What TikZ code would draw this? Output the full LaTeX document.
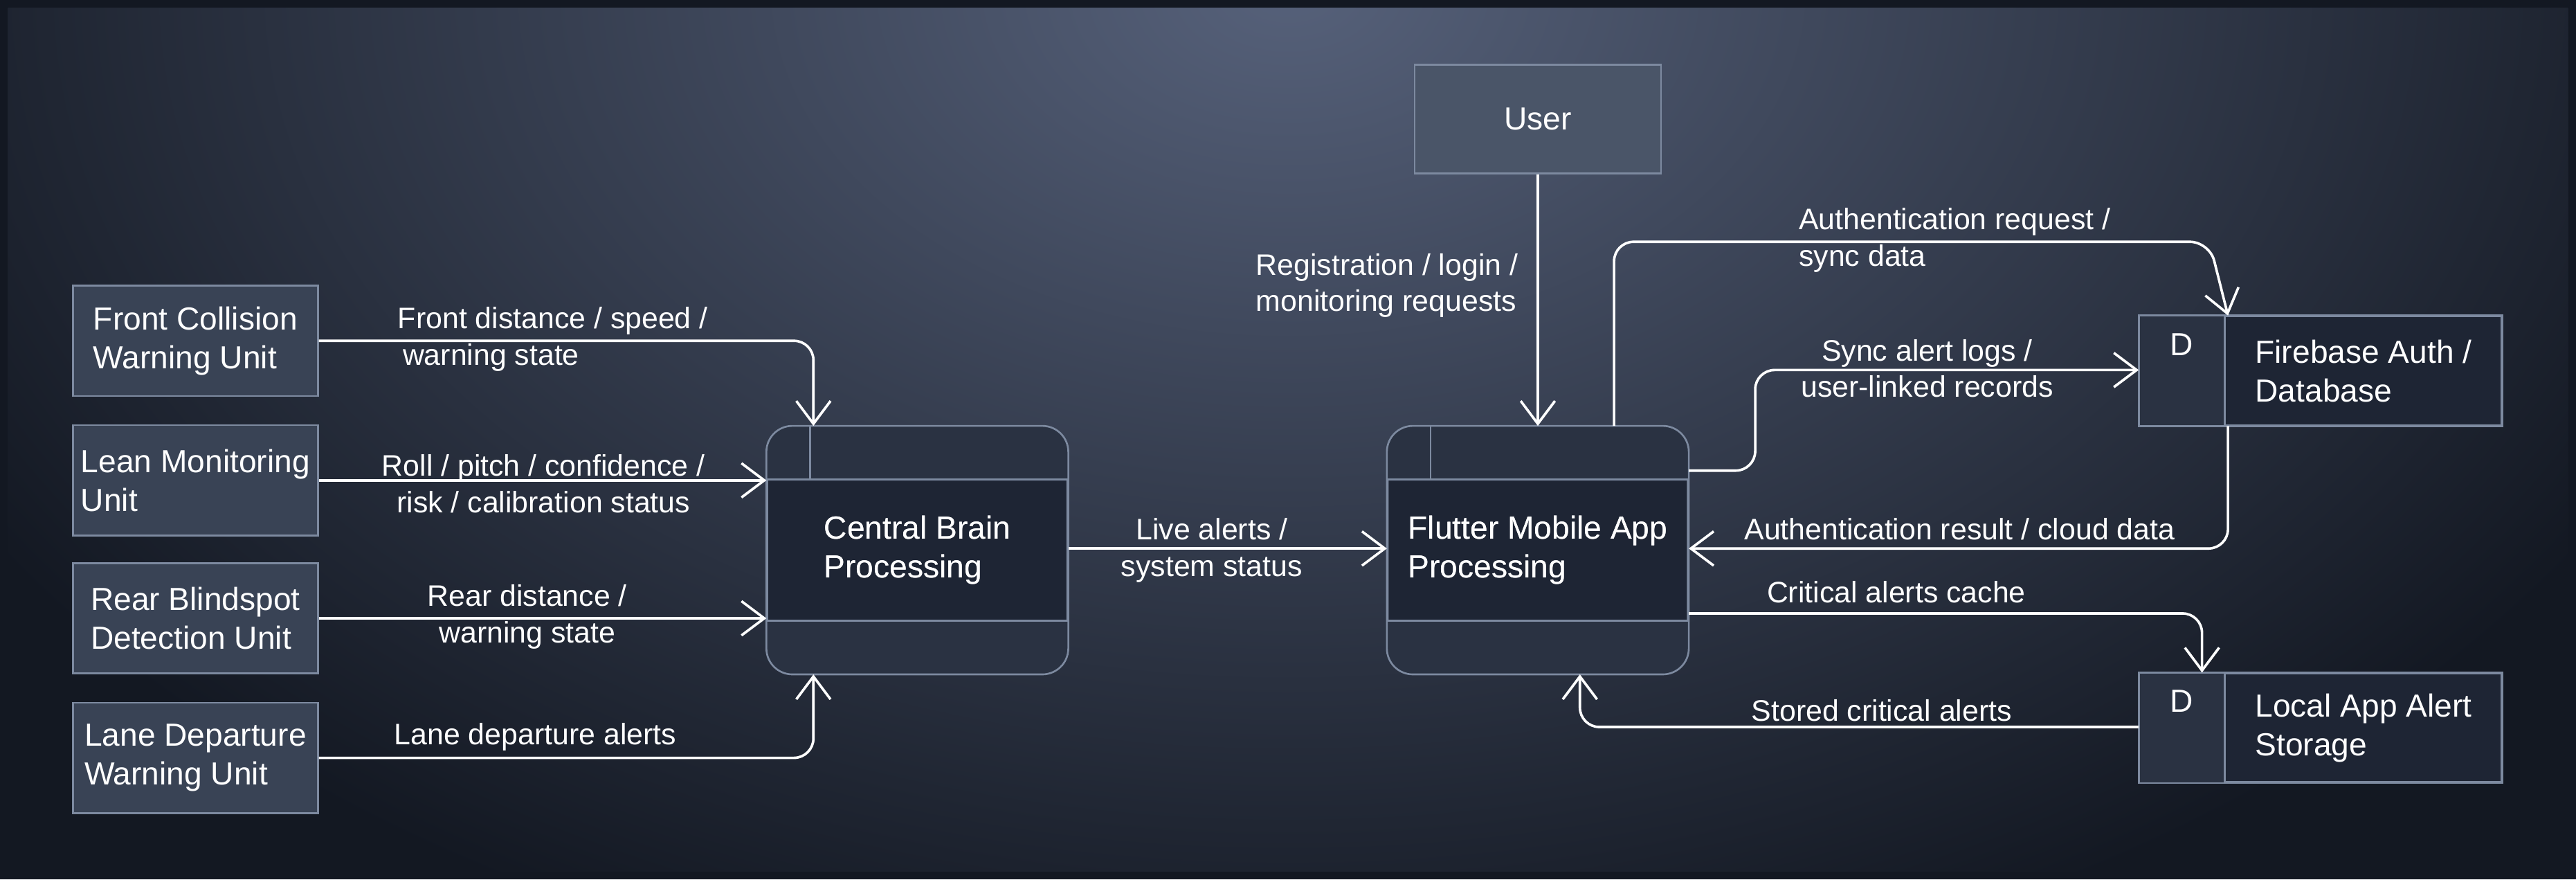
\documentclass[tikz,border=0pt]{standalone}
\usepackage{fontspec}
\setmainfont{Liberation Sans}
\usetikzlibrary{arrows.meta,positioning,calc}
\definecolor{bgtop}{HTML}{56617A}
\definecolor{bgbot}{HTML}{131822}
\definecolor{unitfill}{HTML}{394355}
\definecolor{userfill}{HTML}{4A5568}
\definecolor{edgegray}{HTML}{7D8AA0}
\definecolor{bodyfill}{HTML}{1E2534}
\definecolor{bandfill}{HTML}{2A3242}
\tikzstyle{unit} = [draw=edgegray, fill=unitfill, line width=0.8pt, minimum width=151*0.025cm, minimum height=68*0.025cm, inner sep=1pt, align=left, text=white, font=\fontsize{14}{17}\selectfont]
\tikzstyle{proc} = [draw=edgegray, fill=bodyfill, line width=0.8pt, rounded corners=0.4cm, minimum width=185*0.025cm, minimum height=152*0.025cm, align=left, text=white, font=\fontsize{14}{17}\selectfont]
\tikzstyle{store} = [draw=edgegray, fill=bodyfill, line width=0.8pt, minimum width=223*0.025cm, minimum height=67*0.025cm]
\tikzstyle{flow} = [draw=white, line width=1.1pt, rounded corners=0.3cm, -{Straight Barb[length=10pt,width=15pt]}]
\tikzstyle{lbl} = [text=white, align=left, font=\fontsize{13}{16}\selectfont, inner sep=0pt]
\begin{document}
\begin{tikzpicture}[x=0.025cm, y=0.025cm]
      \fill[bgbot] (-10,-10) rectangle (1578,532);
      \begin{scope}
      \clip (-5,-5) rectangle (1573,527);
      \shade[inner color=bgtop, outer color=bgbot] (784,540) ellipse (950 and 640);
      \end{scope}
      \useasboundingbox (0,0) rectangle (1568,522);
      % sensor units
      \node[unit] (FCW) at (110.5,322) {Front Collision\\Warning Unit};
      \node[unit] (LMU) at (110.5,236) {Lean Monitoring\\Unit};
      \node[unit] (RBD) at (110.5,151) {Rear Blindspot\\Detection Unit};
      \node[unit] (LDW) at (110.5,65) {Lane Departure\\Warning Unit};
      \node[unit, fill=userfill, minimum width=152*0.025cm, minimum height=67*0.025cm] (User) at (938,458.5) {User};
      % processes
      \foreach \p/\x/\t in {CB/555.5/{Central Brain\\Processing}, FMA/938/{Flutter Mobile App\\Processing}}{
        \node[proc] (\p) at (\x,193) {\t};
        \begin{scope}
        \clip[rounded corners=0.4cm] (\p.south west) rectangle (\p.north east);
        \fill[bandfill] (\p.north west) rectangle ($(\p.north east)+(0,-33)$);
        \fill[bandfill] (\p.south west) rectangle ($(\p.south east)+(0,33)$);
        \end{scope}
        \draw[edgegray, line width=0.8pt] ($(\p.north west)+(0,-33)$) -- ($(\p.north east)+(0,-33)$);
        \draw[edgegray, line width=0.8pt] ($(\p.south west)+(0,33)$) -- ($(\p.south east)+(0,33)$);
        \draw[edgegray, line width=0.8pt] ($(\p.north west)+(27,0)$) -- ($(\p.north west)+(27,-33)$);
        \draw[edgegray, line width=0.8pt, rounded corners=0.4cm] (\p.south west) rectangle (\p.north east);
        \node[text=white, align=left, font=\fontsize{14}{17}\selectfont] at (\p) {\t};
      }
      % data stores
      \foreach \s/\y/\t in {FB/303.5/{Firebase Auth /\\Database}, LS/83.5/{Local App Alert\\Storage}}{
        \node[store] (\s) at (1420.5,\y) {};
        \fill[bandfill] (\s.south west) rectangle ($(\s.north west)+(53,0)$);
        \draw[edgegray, line width=0.8pt] (\s.south west) rectangle (\s.north east);
        \draw[edgegray, line width=0.8pt] ($(\s.south west)+(53,0)$) -- ($(\s.north west)+(53,0)$);
        \node[text=white, font=\fontsize{14}{17}\selectfont, anchor=north] at ($(\s.north west)+(26.5,-6)$) {D};
        \node[text=white, align=left, font=\fontsize{14}{17}\selectfont] at ($(\s.center)+(26.5,0)$) {\t};
      }
      % sensor flows
      \draw[flow] (FCW.east |- 0,322) -| ($(CB.north west)+(29,0)$);
      \node[lbl, anchor=north west] at (235,343) {Front distance / speed /\\\,warning state};
      \draw[flow] (LMU.east) -- (CB.west |- LMU.east);
      \node[lbl, align=center] at (325,234) {Roll / pitch / confidence /\\risk / calibration status};
      \draw[flow] (RBD.east) -- (CB.west |- RBD.east);
      \node[lbl, align=center] at (315,152) {Rear distance /\\warning state};
      \draw[flow] (LDW.east) -| ($(CB.south west)+(29,0)$);
      \node[lbl] at (320,78) {Lane departure alerts};
      % app flows
      \draw[flow] (CB.east |- 0,194) -- (FMA.west |- 0,194);
      \node[lbl, align=center] at (737,193) {Live alerts /\\system status};
      \draw[flow] (User.south) -- (FMA.north);
      \node[lbl] at (845,356) {Registration / login /\\monitoring requests};
      \draw[flow] ($(FMA.north)+(47,0)$) |- (1352,383) -- ($(FB.north west)+(55,0)$);
      \node[lbl] at (1195,384) {Authentication request /\\sync data};
      \draw[flow] (FMA.east |- 0,242) -| (1072,304) -- (FB.west |- 0,304);
      \node[lbl, align=center] at (1178,305) {Sync alert logs /\\user-linked records};
      \draw[flow] ($(FB.south west)+(55,0)$) |- (FMA.east |- 0,194);
      \node[lbl] at (1198,206) {Authentication result / cloud data};
      \draw[flow] (FMA.east |- 0,154) -| ($(LS.north west)+(39,0)$);
      \node[lbl] at (1159,167) {Critical alerts cache};
      \draw[flow] (LS.west |- 0,84) -| ($(FMA.south west)+(119,0)$);
      \node[lbl] at (1150,94) {Stored critical alerts};
\end{tikzpicture}
\end{document}
